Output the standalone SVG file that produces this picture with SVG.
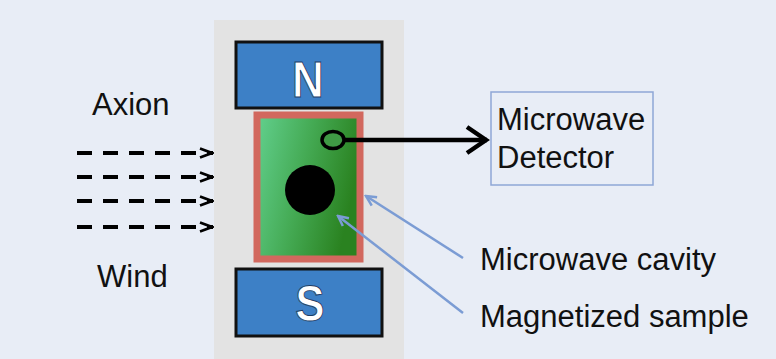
<svg xmlns="http://www.w3.org/2000/svg" width="776" height="359" viewBox="0 0 776 359">
<defs>
<linearGradient id="green" x1="0" y1="0" x2="1" y2="0.3">
<stop offset="0" stop-color="#62d08e"/>
<stop offset="0.5" stop-color="#45ab55"/>
<stop offset="1" stop-color="#2a8220"/>
</linearGradient>
<marker id="chev" viewBox="0 0 16 12" refX="15" refY="6" markerWidth="16" markerHeight="12" markerUnits="userSpaceOnUse" orient="auto">
<path d="M2,1.5 L14,6 L2,10.5" fill="none" stroke="#000" stroke-width="2.6"/>
</marker>
<marker id="bigchev" viewBox="0 0 26 32" refX="23" refY="16" markerWidth="26" markerHeight="32" markerUnits="userSpaceOnUse" orient="auto">
<path d="M3,3 L22,16 L3,29" fill="none" stroke="#000" stroke-width="4.5" stroke-linejoin="miter"/>
</marker>
<marker id="blue" viewBox="0 0 14 14" refX="12" refY="7" markerWidth="14" markerHeight="14" markerUnits="userSpaceOnUse" orient="auto">
<path d="M2,2 L12,7 L2,12" fill="none" stroke="#7b9cd4" stroke-width="2.5"/>
</marker>
</defs>
<style>
.t{font-family:"Liberation Sans",Arial,sans-serif;font-size:31px;fill:#111}
.mag{fill:#3d80c6;stroke:#111;stroke-width:3}
.pole{font-family:"Liberation Sans",Arial,sans-serif;font-weight:bold;font-size:50px;fill:#fff;stroke:#1d3e66;stroke-width:1;text-anchor:middle}
.dash{stroke:#000;stroke-width:4;stroke-dasharray:15 11;fill:none;marker-end:url(#chev)}
.lead{stroke:#7b9cd4;stroke-width:2.5;fill:none;marker-end:url(#blue)}
</style>
<rect width="776" height="359" fill="#e8edf6"/>
<g id="panel"><rect x="214" y="20" width="190" height="339" fill="#e3e3e3"/></g>
<g id="magnet-n"><rect class="mag" x="236" y="42" width="146" height="66"/><text class="pole" x="308" y="97" transform="translate(308 0) scale(0.88 1) translate(-308 0)">N</text></g>
<g id="magnet-s"><rect class="mag" x="236" y="269" width="146" height="67"/><text class="pole" x="310" y="321" transform="translate(310 0) scale(0.88 1) translate(-310 0)">S</text></g>
<g id="cavity"><rect x="257" y="115" width="103" height="144" fill="url(#green)" stroke="#d2685e" stroke-width="7"/></g>
<g id="sample"><circle cx="310" cy="190" r="25" fill="#000"/></g>
<g id="probe"><ellipse cx="333" cy="140" rx="11" ry="8.5" fill="#3f9a45" stroke="#000" stroke-width="3.5"/></g>
<g id="detector"><rect x="491" y="92" width="162" height="93" fill="#e8edf6" stroke="#8ea7d6" stroke-width="1.5"/>
<text class="t" x="497" y="130">Microwave</text><text class="t" x="497" y="168">Detector</text></g>
<g id="labels">
<text class="t" x="92" y="115">Axion</text>
<text class="t" x="97" y="287">Wind</text>
<text class="t" x="480" y="270">Microwave cavity</text>
<text class="t" x="480" y="327">Magnetized sample</text>
</g>
<g id="connectors">
<line class="dash" x1="77" y1="153" x2="213" y2="153"/>
<line class="dash" x1="77" y1="177" x2="213" y2="177"/>
<line class="dash" x1="77" y1="201" x2="213" y2="201"/>
<line class="dash" x1="77" y1="227" x2="213" y2="227"/>
<line x1="344" y1="140" x2="487" y2="140" stroke="#000" stroke-width="4.5" marker-end="url(#bigchev)"/>
<line class="lead" x1="463" y1="258" x2="366" y2="196"/>
<line class="lead" x1="463" y1="313" x2="338" y2="216"/>
</g>
</svg>
